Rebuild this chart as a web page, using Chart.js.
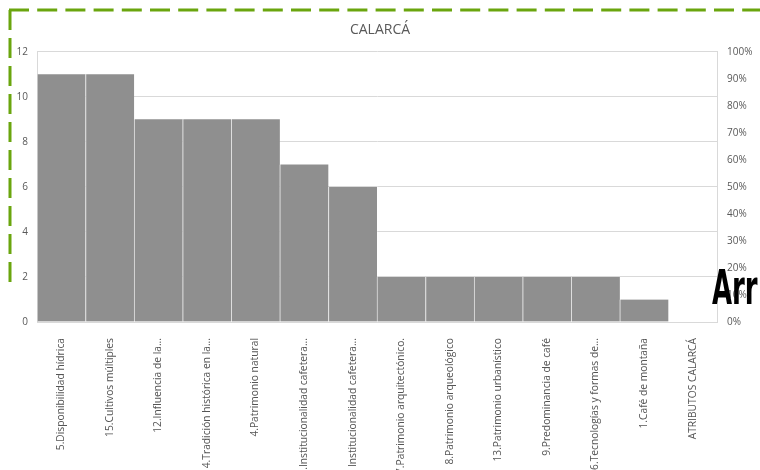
<!DOCTYPE html>
<html>
<head>
<meta charset="utf-8">
<script src="https://cdn.jsdelivr.net/npm/chart.js@4/dist/chart.umd.min.js"></script>
<style>
  html, body { margin: 0; padding: 0; background: #fff; overflow: hidden; }
  #wrap { position: relative; width: 760px; height: 520px; }
  #borde { position: absolute; left: 0; top: 0; pointer-events: none; }
  #arr {
    position: absolute; left: 712px; top: 259px;
    font-family: 'Liberation Sans Narrow', 'DejaVu Sans Condensed', sans-serif;
    font-weight: bold; font-size: 40px; color: #000;
    transform: scale(0.72, 1.22); transform-origin: left top; white-space: nowrap;
  }
</style>
</head>
<body>
<div id="wrap">
  <canvas id="myChart_calarca" width="760" height="520"></canvas>
  <svg id="borde" width="760" height="470">
    <line x1="10" y1="10" x2="10" y2="283" stroke="#6aa50e" stroke-width="3" stroke-dasharray="20 8"/>
    <line x1="9" y1="10" x2="760" y2="10" stroke="#6aa50e" stroke-width="3" stroke-dasharray="20 8.2"/>
  </svg>
  <div id="arr">Arr</div>
</div>
<script>
// atributos Calarcá
var atributos = [
  '5.Disponibilidad hídrica',
  '15.Cultivos múltiples',
  '12.Influencia de la...',
  '14.Tradición histórica en la...',
  '4.Patrimonio natural',
  '11.Institucionalidad cafetera...',
  '10. Institucionalidad cafetera...',
  '7.Patrimonio arquitectónico.',
  '8.Patrimonio arqueológico',
  '13.Patrimonio urbanístico',
  '9.Predominancia de café',
  '16.Tecnologías y formas de...',
  '1.Café de montaña',
  'ATRIBUTOS CALARCÁ'
];
var frecuencias = [11, 11, 9, 9, 9, 7, 6, 2, 2, 2, 2, 2, 1, 0];
var ticksPorcentaje = [0, 0.1, 0.2, 0.3, 0.4, 0.5, 0.6, 0.7, 0.8, 0.9, 1];

var gris = '#595959';
var linea = '#d9d9d9';
var fuente = { family: "'Open Sans', 'Liberation Sans', sans-serif", size: 10 };
var fuenteX = { family: "'Open Sans', 'Liberation Sans', sans-serif", size: 10.25 };

function initChart(){
    var ctx = document.getElementById('myChart_calarca');
    var myChart = new Chart(ctx, {
        type: 'bar',
        data: {
            labels: atributos,
            datasets: [{
                data: frecuencias,
                backgroundColor: '#8f8f8f',
                borderColor: '#e2e2e2',
                borderWidth: { left: 1, right: 0, top: 0, bottom: 0 },
                borderSkipped: false,
                barPercentage: 1,
                categoryPercentage: 1
            }]
        },
        options: {
            responsive: false,
            animation: false,
            layout: { padding: { left: 0, right: 0, top: 0, bottom: 0 } },
            plugins: {
                legend: { display: false },
                tooltip: { enabled: false },
                title: {
                    display: true,
                    text: 'CALARCÁ',
                    color: gris,
                    font: { family: "'Open Sans', 'Liberation Sans', sans-serif", size: 14, weight: 'normal' },
                    padding: { top: 22, bottom: 13 }
                }
            },
            scales: {
                x: {
                    grid: { display: false },
                    border: { color: linea },
                    ticks: {
                        color: '#555555', font: fuenteX, autoSkip: false,
                        minRotation: 90, maxRotation: 90, padding: 8
                    },
                    afterFit: function(scale){ scale.height = 198; }
                },
                y: {
                    position: 'left',
                    min: 0, max: 12,
                    grid: { color: linea, drawTicks: false },
                    border: { color: linea },
                    ticks: { stepSize: 2, color: gris, font: fuente, padding: 9 },
                    afterFit: function(scale){ scale.width = 37; }
                },
                y1: {
                    position: 'right',
                    min: 0, max: 1,
                    grid: { drawOnChartArea: false, drawTicks: false },
                    border: { color: linea },
                    afterBuildTicks: function(scale){
                        scale.ticks = ticksPorcentaje.map(function(v){ return { value: v }; });
                    },
                    ticks: {
                        color: gris, font: fuente, padding: 10,
                        callback: function(v){ return Math.round(v * 100) + '%'; }
                    },
                    afterFit: function(scale){ scale.width = 43; }
                }
            }
        }
    });
};

initChart();
</script>
</body>
</html>
